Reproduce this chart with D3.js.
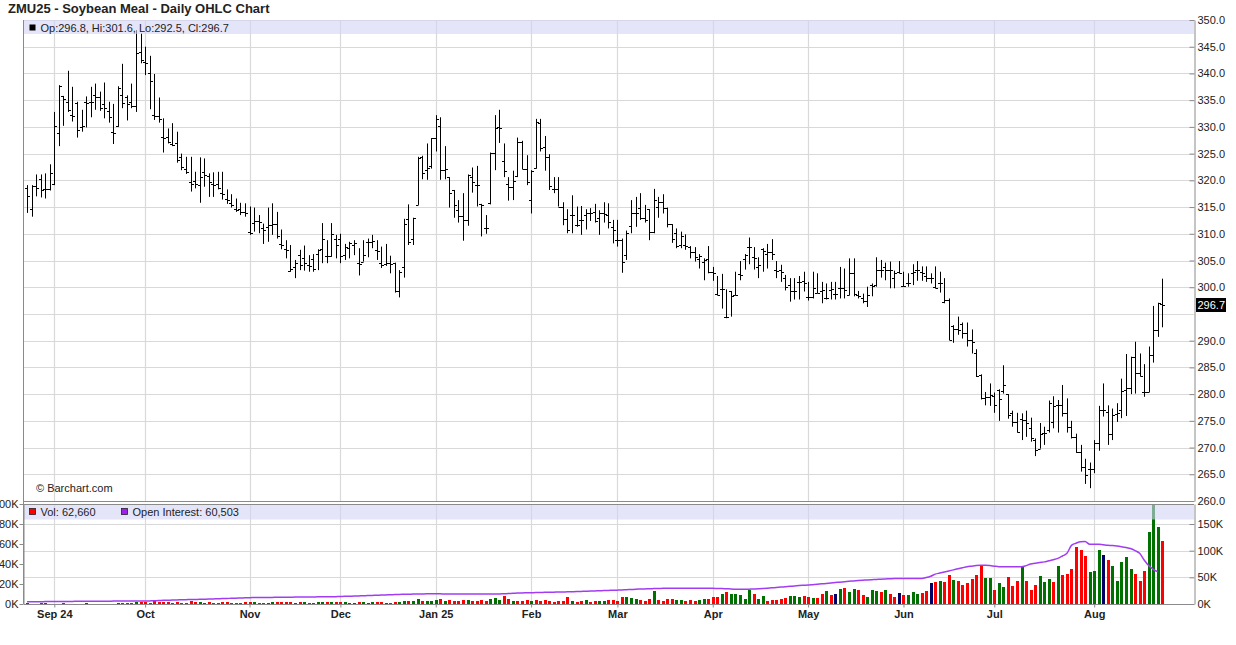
<!DOCTYPE html>
<html><head><meta charset="utf-8">
<script src="https://cdn.jsdelivr.net/npm/d3@7"></script>
<style>
body{margin:0;background:#fff;}
svg{display:block;font-family:"Liberation Sans",Arial,sans-serif;}
</style></head><body>
<svg id="c" width="1236" height="645"></svg>
<script>
// ---------- DATA ----------
const title = "ZMU25 - Soybean Meal - Daily OHLC Chart";
const holidays = ["2024-09-02","2024-11-28","2024-12-25","2025-01-01","2025-01-20","2025-02-17","2025-04-18","2025-05-26","2025-06-19","2025-07-04"];
const monthLabels = ["Sep 24","Oct","Nov","Dec","Jan 25","Feb","Mar","Apr","May","Jun","Jul","Aug"];
const priceTicks = [260,265,270,275,280,285,290,295,300,305,310,315,320,325,330,335,340,345,350];
const volTicks = [0,20,40,60,80,100];      // K, left axis (volume)
const oiTicks = [0,50,100,150];            // K, right axis (open interest)

const open = [
318.5,314.6,318.9,320.2,318.3,318.4,319.3,328.8,335.7,334.7,
332.3,334.4,330.0,334.7,334.7,336.0,335.6,334.2,333.0,329.0,
330.2,336.0,335.6,334.7,333.9,344.0,342.2,340.0,332.3,332.1,
328.1,328.1,326.8,327.0,324.4,322.2,319.6,319.9,319.2,321.6,
320.8,319.4,319.3,317.6,316.5,315.7,314.6,314.6,314.1,310.4,
312.0,312.3,311.0,311.2,311.7,311.9,308.1,307.1,303.0,303.8,
306.0,305.5,304.1,305.2,306.2,307.1,305.9,305.9,309.1,309.0,
306.0,307.3,307.9,304.5,304.8,308.5,308.5,307.0,304.5,304.3,
304.5,304.5,299.2,303.7,312.8,309.1,315.4,324.4,321.9,322.6,
327.9,330.2,322.0,320.6,318.2,314.4,313.3,312.6,320.6,319.1,
315.5,311.0,315.7,325.2,329.9,323.6,319.4,318.8,320.8,327.2,
322.1,316.4,322.4,330.8,326.2,324.4,318.3,318.3,315.1,312.8,
313.5,311.6,312.6,313.5,313.9,314.1,312.9,313.8,313.5,311.3,
308.8,308.8,306.0,311.4,313.8,314.8,312.9,314.6,310.4,315.1,
316.0,314.8,311.8,310.1,307.9,307.9,307.5,306.6,305.2,304.8,
305.2,302.9,298.8,299.6,294.5,299.2,298.5,302.5,305.2,307.5,
305.6,303.8,307.1,306.3,306.5,303.2,303.2,301.8,300.4,299.3,
301.0,301.2,298.2,298.2,299.0,299.2,297.9,299.5,298.7,299.8,
299.8,298.5,302.6,298.5,298.0,297.5,300.4,300.4,303.3,303.8,
303.2,301.7,302.9,300.3,300.7,302.6,303.3,302.8,302.1,301.8,
300.1,300.8,297.3,297.7,292.7,292.1,293.2,291.5,290.1,287.7,
283.6,279.2,279.5,279.6,280.8,280.6,280.0,276.5,274.8,275.3,
275.1,273.6,271.5,269.8,272.8,273.3,274.8,277.9,277.9,276.4,
273.9,272.0,269.2,266.4,265.9,265.9,270.8,277.0,276.7,272.5,
276.3,277.0,280.8,281.1,286.9,284.0,280.4,280.4,287.3,292.0,
296.8];
const high = [
319.1,319.1,321.1,321.1,321.3,323.0,332.8,337.8,335.8,340.5,
337.5,334.7,333.2,335.7,337.5,338.1,336.6,338.3,334.7,334.3,
337.6,341.8,335.9,338.1,348.1,347.5,345.0,343.3,339.9,335.5,
331.6,329.7,330.7,329.1,325.0,324.4,324.4,321.6,324.3,324.1,
321.3,321.5,321.6,321.6,318.3,317.4,316.6,315.8,315.7,315.1,
314.9,313.5,311.9,314.9,315.7,314.1,310.8,308.8,307.9,305.1,
307.0,307.8,306.0,306.2,307.1,312.0,308.8,312.0,309.8,310.0,
308.1,308.5,308.8,307.3,308.8,309.1,309.8,308.8,307.6,308.1,
305.9,304.6,303.2,312.8,315.5,313.0,324.4,324.6,326.9,327.9,
332.2,331.8,326.4,320.6,318.2,316.3,317.6,321.1,322.4,322.7,
315.6,313.5,325.2,332.2,333.2,326.9,320.6,321.8,328.0,327.4,
324.7,321.9,331.5,331.5,328.3,324.9,320.6,320.6,315.9,314.6,
317.2,315.1,315.2,314.6,314.8,315.6,314.4,315.9,315.7,312.6,
312.6,309.1,310.6,316.3,316.9,317.6,315.4,314.6,318.4,316.9,
317.4,314.9,311.8,311.0,310.4,309.9,307.7,307.5,306.2,305.4,
307.7,303.8,302.1,302.5,299.6,299.3,302.9,304.9,306.2,309.3,
307.5,305.6,307.3,308.1,309.0,304.9,304.2,302.3,301.7,301.7,
302.1,302.9,301.0,302.9,302.6,301.0,300.7,301.0,301.0,303.8,
303.5,305.4,305.4,299.3,298.8,300.1,300.7,305.6,305.1,304.6,
304.8,303.1,304.9,302.9,302.6,304.3,304.9,303.9,303.9,302.6,
303.9,302.9,301.7,297.9,292.9,294.5,293.4,293.4,292.1,288.4,
283.7,280.4,282.0,280.3,280.9,285.4,280.0,276.9,276.5,276.4,
276.9,275.6,271.7,274.6,273.9,278.8,279.6,278.9,281.7,279.2,
275.0,272.6,270.5,267.9,267.2,271.4,277.8,282.0,277.9,277.3,
278.3,282.9,287.5,287.0,289.8,287.6,285.6,288.9,296.5,297.1,
301.6];
const low = [
313.9,313.2,317.0,316.8,316.6,318.1,319.1,326.4,330.2,332.8,
331.0,328.0,329.1,329.9,331.8,333.2,333.0,331.6,330.8,326.8,
330.0,333.5,331.2,333.5,332.8,341.9,339.7,333.3,331.3,330.8,
325.2,326.9,326.4,323.3,321.9,321.2,317.9,318.5,315.8,318.8,
316.9,316.9,318.3,316.4,315.6,314.9,314.1,313.5,313.2,309.8,
310.4,310.1,308.1,308.5,309.8,309.1,307.1,305.4,302.9,301.7,
303.2,303.1,302.9,302.9,303.2,304.5,304.5,305.7,305.4,304.5,
305.1,305.4,306.0,302.2,304.8,305.6,307.3,305.1,303.6,304.0,
302.6,299.0,298.1,301.8,307.9,307.9,315.4,320.2,320.1,322.2,
325.4,320.1,320.2,314.9,313.0,312.1,308.7,311.5,317.7,315.1,
309.5,310.0,315.5,321.9,327.0,320.6,316.2,316.3,320.6,322.1,
319.1,313.8,322.2,325.4,321.8,318.2,317.6,315.1,311.6,310.1,
310.1,311.3,309.8,310.8,312.4,312.1,309.8,312.1,311.0,308.2,
307.6,302.7,305.1,310.1,311.3,312.6,312.1,308.8,310.1,313.0,
313.8,311.2,308.3,307.3,307.3,307.0,305.4,304.8,303.5,301.3,
302.6,301.2,298.5,296.0,294.2,294.5,298.5,301.3,303.3,304.3,
303.3,301.7,302.9,303.5,305.1,301.7,301.0,299.4,297.3,297.7,
297.7,299.2,297.5,297.9,298.9,297.0,297.7,297.7,297.7,297.9,
297.9,298.5,298.3,297.9,297.0,296.3,298.3,300.1,301.8,301.3,
299.8,299.8,302.6,300.1,300.1,300.4,301.2,301.2,301.0,300.7,
299.8,299.0,297.0,290.1,289.6,291.1,290.4,288.9,287.6,283.2,
279.0,277.9,277.8,276.5,275.0,280.1,275.4,273.9,272.8,271.4,
272.0,271.1,268.4,269.8,270.5,272.8,273.6,272.8,275.8,272.8,
271.7,269.0,265.5,263.2,262.4,265.2,269.4,275.8,270.5,271.4,
274.8,275.5,275.9,280.0,280.1,283.3,279.5,280.4,285.9,290.7,
292.5];
const close = [
317.1,318.9,318.6,318.2,318.4,321.3,330.2,337.6,335.3,333.2,
332.0,329.4,330.2,334.5,334.7,335.6,333.6,333.5,331.8,328.9,
337.2,334.5,334.3,334.0,343.9,342.5,342.0,338.5,332.1,331.4,
328.0,327.2,326.6,323.8,322.5,321.6,319.4,319.3,320.7,321.0,
319.6,319.1,318.5,317.4,316.3,315.4,314.4,314.1,313.8,310.1,
312.3,312.2,310.7,311.6,311.9,309.6,307.9,307.0,303.5,304.6,
304.1,304.5,304.0,303.5,307.0,309.1,305.9,310.0,307.9,305.9,
307.6,308.2,308.3,304.3,306.0,308.4,308.7,306.8,304.2,304.6,
304.4,299.2,302.9,311.8,308.5,312.9,324.1,321.4,322.4,327.9,
331.4,322.0,322.2,317.7,315.3,313.3,312.6,321.0,319.6,319.1,
315.4,311.1,325.2,329.7,329.8,321.7,318.8,319.9,327.2,322.2,
319.6,321.8,331.0,326.0,324.3,318.9,318.4,315.1,312.8,310.7,
313.5,311.6,312.6,313.8,313.9,312.4,313.8,313.7,312.2,310.8,
308.8,304.8,310.2,313.8,313.9,312.9,312.6,310.4,316.3,316.0,
314.8,311.8,309.1,307.7,309.6,307.7,306.6,305.7,305.8,305.1,
302.9,302.7,298.5,299.6,294.5,298.3,298.6,302.3,306.0,307.5,
305.4,304.2,306.8,306.5,306.3,303.1,302.9,300.1,299.2,299.2,
301.0,300.8,298.1,299.8,299.0,299.5,297.9,299.6,298.7,299.8,
299.4,302.6,298.7,298.3,297.4,298.5,300.2,303.3,303.2,303.3,
303.2,302.7,302.7,300.3,300.8,302.8,303.2,302.7,301.8,301.8,
299.8,300.7,297.7,290.2,292.1,292.0,291.5,290.1,289.8,283.4,
279.2,279.5,279.9,277.9,279.0,281.7,276.1,274.8,272.9,275.1,
274.6,271.7,269.5,272.6,272.8,278.3,277.8,277.9,276.4,273.9,
272.0,269.2,266.4,264.9,265.9,270.8,277.0,277.0,272.5,276.1,
276.4,280.6,281.1,286.9,284.0,283.4,280.4,287.3,292.0,297.0,
296.7];
// volume in thousands of contracts
const volume = [
0.8,0.3,0.2,0.6,0.8,0.3,0.5,0.4,0.7,0.3,
0.2,0.3,0.4,0.6,0.2,0.3,0.2,0.3,0.4,0.3,
0.8,0.7,0.9,1.0,2.3,2.0,1.8,1.2,2.6,2.0,
1.9,1.8,1.0,1.5,0.8,1.3,2.8,1.9,2.5,1.0,
1.8,1.2,1.3,1.9,1.5,1.4,1.0,1.3,1.5,2.3,
1.5,1.3,1.4,1.2,1.8,1.6,1.6,1.8,2.5,1.4,
1.6,1.7,1.2,1.3,1.6,2.5,2.0,1.7,1.5,1.8,
1.5,1.3,1.0,2.2,1.6,1.4,1.7,1.5,1.9,1.3,
1.2,2.5,2.0,3.5,2.8,2.6,4.5,3.2,3.0,3.4,
4.0,5.0,3.2,3.8,3.5,3.0,3.6,4.4,3.0,3.2,
3.8,3.4,5.5,6.0,4.2,8.3,5.0,3.0,3.0,3.0,
4.0,3.0,4.0,3.0,4.0,3.0,2.3,3.0,3.0,7.0,
3.0,2.3,3.3,4.0,2.3,3.0,3.0,3.0,4.0,4.0,
3.0,7.0,6.7,5.7,5.0,4.0,3.0,5.0,13.0,4.0,
3.0,5.0,5.0,4.0,4.0,3.0,4.0,3.3,4.0,5.0,
5.0,7.0,7.0,10.0,12.0,10.0,10.0,9.0,5.0,14.0,
10.0,5.0,8.0,3.0,4.0,4.0,5.0,6.0,8.0,8.0,
7.0,8.0,7.0,6.0,6.0,10.0,13.0,9.0,10.0,15.0,
16.0,12.0,15.0,14.0,9.0,7.0,14.0,13.0,12.0,14.0,
10.0,7.0,11.0,9.0,9.0,12.0,10.0,11.0,13.3,21.0,
22.3,23.0,22.3,29.0,24.0,23.0,19.0,21.0,25.0,29.0,
38.0,26.0,26.0,14.0,21.0,17.0,27.0,18.0,23.3,37.0,
23.3,14.0,19.0,28.0,22.3,25.0,22.3,38.0,29.0,30.3,
35.0,57.3,54.0,48.0,32.3,33.3,54.0,49.0,44.0,38.3,
23.3,42.0,46.7,35.0,30.0,23.3,33.0,72.0,115.0,77.3,
62.66];
// open interest in thousands (last session not yet reported)
const openInterest = [
4.3,4.3,4.4,4.4,4.5,4.5,4.6,4.7,4.8,4.9,
4.9,5.0,5.0,5.1,5.1,5.2,5.2,5.3,5.3,5.4,
5.4,5.5,5.5,5.5,5.6,5.6,5.6,5.8,6.1,6.4,
6.8,7.1,7.4,7.7,8.0,8.2,8.4,8.6,8.7,8.9,
9.2,9.5,9.8,10.1,10.4,10.7,11.0,11.3,11.6,11.9,
12.0,12.1,12.2,12.3,12.4,12.5,12.6,12.7,12.8,12.9,
13.0,13.1,13.2,13.3,13.4,13.5,13.6,13.7,13.8,14.0,
14.3,14.6,14.9,15.2,15.5,15.8,16.1,16.4,16.7,17.0,
17.3,17.6,17.9,18.2,18.4,18.6,18.8,18.9,19.0,19.0,
19.0,19.0,18.9,18.9,18.8,18.8,18.8,18.7,18.7,18.7,
18.7,18.7,18.7,18.8,18.8,19.2,19.6,20.0,20.4,20.8,
21.0,21.2,21.4,21.6,21.8,22.0,22.2,22.4,22.6,22.8,
23.0,23.3,23.6,23.9,24.2,24.5,24.8,25.1,25.4,25.7,
26.0,26.4,26.8,27.2,27.6,28.0,28.3,28.6,28.9,29.1,
29.3,29.4,29.5,29.5,29.6,29.6,29.6,29.5,29.5,29.5,
29.4,29.4,29.2,29.0,28.6,28.2,27.8,27.5,27.6,27.8,
28.1,28.5,29.0,29.6,30.3,31.0,31.7,32.4,33.1,33.8,
34.5,35.1,35.6,36.3,37.0,37.8,38.6,39.4,40.2,41.0,
41.8,42.6,43.3,44.0,44.6,45.0,45.5,46.0,46.5,47.0,
47.4,47.8,48.0,48.0,48.0,48.0,48.0,48.0,49.5,52.0,
56.0,58.0,60.0,62.0,64.0,66.0,68.0,70.0,71.0,72.0,
72.5,72.5,72.0,71.0,70.0,70.0,70.0,70.0,70.0,70.0,
72.0,75.0,76.5,78.0,79.0,81.0,83.0,85.6,90.0,95.0,
110.0,114.0,116.8,117.0,112.0,112.0,112.0,111.0,110.0,109.5,
108.7,107.5,106.0,104.0,100.0,95.0,82.5,72.0,65.0,60.5,
null];
// u = close up, d = close down, n = unchanged (volume bar colour)
const volDirCodes = [
"u","u","d","d","u","u","u","u","d","d",
"d","d","u","u","u","u","d","d","d","d",
"u","d","d","d","u","d","d","d","d","d",
"d","d","d","d","d","d","d","d","u","u",
"d","d","d","d","d","d","d","d","d","d",
"u","d","d","u","u","d","d","d","d","u",
"d","u","d","d","u","u","d","u","d","d",
"u","u","u","d","u","u","u","d","d","u",
"d","d","u","u","d","u","u","d","u","u",
"u","d","u","d","d","d","d","u","d","d",
"d","d","u","u","u","d","d","u","d","d",
"d","u","d","d","d","d","d","d","d","d",
"u","d","d","u","d","d","u","u","d","d",
"d","d","u","u","u","d","d","d","u","d",
"d","d","d","u","u","d","d","d","u","u",
"d","d","d","u","d","u","u","u","u","u",
"d","u","u","d","d","d","d","d","u","u",
"u","d","d","u","d","d","u","d","n","u",
"d","u","u","d","d","u","u","u","d","u",
"d","d","n","d","u","u","u","d","d","n",
"d","u","d","d","u","d","d","d","d","d",
"d","u","u","d","u","u","d","d","d","u",
"d","d","d","u","u","u","d","u","d","d",
"d","d","d","d","u","u","u","n","d","u",
"u","u","u","u","d","d","d","u","u","u",
"d"];
const lastVolume = 62660, lastOI = 60503;

// ---------- CHART ----------
const svg = d3.select("#c");
const plotL = 24, plotR = 1194, mainTop = 20, mainBot = 501, volTop = 504, volBot = 604;
const fmtDay = d3.utcFormat("%Y-%m-%d");
const dates = d3.utcDays(new Date(Date.UTC(2024,7,23)), new Date(Date.UTC(2025,7,23)))
  .filter(d => d.getUTCDay() % 6 !== 0 && !holidays.includes(fmtDay(d))).map(fmtDay);
const N = close.length;
const x = d3.scalePoint().domain(dates.slice(0, N)).range([27.05, 1162.3]);
const yP = d3.scaleLinear().domain([260, 350]).range([mainBot, mainTop]);
const yV = d3.scaleLinear().domain([0, 100]).range([volBot, volTop]);
const yOI = d3.scaleLinear().domain([0, 187.5]).range([volBot, volTop]);

const monthStarts = dates.slice(0, N).filter((d, i) => i > 0 && d.slice(5, 7) !== dates[i - 1].slice(5, 7));
const px = i => Math.round(x(dates[i])) + 0.5;

svg.append("rect").attr("width", 1236).attr("height", 645).attr("fill", "#fff");
const defs = svg.append("defs");
defs.append("clipPath").attr("id", "cm").append("rect").attr("x", plotL).attr("y", mainTop).attr("width", plotR - plotL).attr("height", mainBot - mainTop);
defs.append("clipPath").attr("id", "cv").append("rect").attr("x", plotL).attr("y", volTop).attr("width", plotR - plotL).attr("height", volBot - volTop);

const grid = "#d9d9d9";
// main grid
svg.append("g").selectAll("line").data(priceTicks).join("line")
  .attr("x1", plotL).attr("x2", plotR).attr("y1", d => Math.round(yP(d)) + 0.5).attr("y2", d => Math.round(yP(d)) + 0.5)
  .attr("stroke", grid);
svg.append("g").selectAll("line").data(monthStarts).join("line")
  .attr("x1", d => Math.round(x(d)) + 0.5).attr("x2", d => Math.round(x(d)) + 0.5)
  .attr("y1", mainTop).attr("y2", mainBot).attr("stroke", grid).attr("stroke-width", 1.2);
// volume grid
svg.append("g").selectAll("line").data(oiTicks.filter(d => d > 0)).join("line")
  .attr("x1", plotL).attr("x2", plotR).attr("y1", d => Math.round(yOI(d)) + 0.5).attr("y2", d => Math.round(yOI(d)) + 0.5)
  .attr("stroke", grid);
svg.append("g").selectAll("line").data(monthStarts).join("line")
  .attr("x1", d => Math.round(x(d)) + 0.5).attr("x2", d => Math.round(x(d)) + 0.5)
  .attr("y1", volTop).attr("y2", volBot).attr("stroke", grid).attr("stroke-width", 1.2);

// OHLC bars
svg.append("g").attr("clip-path", "url(#cm)").selectAll("path").data(d3.range(N)).join("path")
  .attr("d", i => {
    const cx = px(i);
    const yo = Math.round(yP(open[i])) + 0.5, yc = Math.round(yP(close[i])) + 0.5;
    return `M${cx},${yP(high[i])}V${yP(low[i])}M${cx - 2.5},${yo}H${cx}M${cx},${yc}H${cx + 2.5}`;
  })
  .attr("stroke", "#000").attr("stroke-width", 1).attr("fill", "none");

// volume bars
const volColor = { u: "#007000", d: "#ff0000", n: "#000066" };
svg.append("g").attr("clip-path", "url(#cv)").selectAll("rect").data(d3.range(N)).join("rect")
  .attr("x", i => Math.round(x(dates[i])) - 1).attr("width", 3)
  .attr("y", i => Math.round(yV(volume[i])))
  .attr("height", i => volBot - Math.round(yV(volume[i])))
  .attr("fill", i => volColor[volDirCodes[i]]);

// open interest line
svg.append("path").attr("clip-path", "url(#cv)")
  .datum(openInterest)
  .attr("d", d3.line().defined(d => d != null).curve(d3.curveMonotoneX).x((d, i) => x(dates[i])).y(d => yOI(d)))
  .attr("fill", "none").attr("stroke", "#a23cf2").attr("stroke-width", 1.5);

// legend bands
svg.append("rect").attr("x", plotL).attr("y", mainTop).attr("width", plotR - plotL).attr("height", 14)
  .attr("fill", "rgb(212,212,246)").attr("opacity", 0.6);
svg.append("rect").attr("x", plotL).attr("y", volTop + 0.5).attr("width", plotR - plotL).attr("height", 15)
  .attr("fill", "rgb(212,212,246)").attr("opacity", 0.6);

const f1 = d3.format(".1f");
svg.append("rect").attr("x", 29.5).attr("y", 24.5).attr("width", 6).attr("height", 6).attr("fill", "#000");
svg.append("text").attr("x", 40.5).attr("y", 31.5).attr("font-size", 11).attr("fill", "#222")
  .text(`Op:${f1(open[N-1])}, Hi:${f1(high[N-1])}, Lo:${f1(low[N-1])}, Cl:${f1(close[N-1])}`);
svg.append("rect").attr("x", 29.5).attr("y", 508.5).attr("width", 6).attr("height", 6).attr("fill", "#ff0000").attr("stroke", "#222").attr("stroke-width", 0.8);
svg.append("text").attr("x", 40.5).attr("y", 515.5).attr("font-size", 11).attr("fill", "#222").text(`Vol: ${d3.format(",")(lastVolume)}`);
svg.append("rect").attr("x", 121.5).attr("y", 508.5).attr("width", 6).attr("height", 6).attr("fill", "#a020f0").attr("stroke", "#222").attr("stroke-width", 0.8);
svg.append("text").attr("x", 132.5).attr("y", 515.5).attr("font-size", 11).attr("fill", "#222").text(`Open Interest: ${d3.format(",")(lastOI)}`);

// frames
const frame = "#8a8a8a";
svg.append("line").attr("x1", plotL - 0.5).attr("x2", plotL - 0.5).attr("y1", mainTop).attr("y2", volBot).attr("stroke", frame);
svg.append("line").attr("x1", plotL).attr("x2", plotR).attr("y1", 501.5).attr("y2", 501.5).attr("stroke", frame);
svg.append("line").attr("x1", plotL).attr("x2", plotR).attr("y1", 504.5).attr("y2", 504.5).attr("stroke", frame);
svg.append("line").attr("x1", plotL).attr("x2", plotR).attr("y1", volBot + 0.5).attr("y2", volBot + 0.5).attr("stroke", frame);

function styleAxis(g) {
  g.attr("font-family", null).attr("font-size", null);
  g.selectAll("text").attr("font-size", 11).attr("fill", "#222");
  g.selectAll("line").attr("stroke", frame);
  g.select(".domain").attr("stroke", frame);
}
// price axis (right)
const lastY = yP(close[N-1]);
svg.append("g").attr("transform", `translate(${plotR + 0.5},0)`)
  .call(d3.axisRight(yP).tickValues(priceTicks.filter(t => Math.abs(yP(t) - lastY) > 10))
    .tickFormat(f1).tickSize(-5).tickSizeOuter(0).tickPadding(3))
  .call(styleAxis);
// volume axis (left)
svg.append("g").attr("transform", `translate(${plotL - 0.5},0)`)
  .call(d3.axisLeft(yV).tickValues(volTicks).tickFormat(d => d + "K").tickSize(4).tickSizeOuter(0).tickPadding(1))
  .call(styleAxis);
// open interest axis (right)
svg.append("g").attr("transform", `translate(${plotR + 0.5},0)`)
  .call(d3.axisRight(yOI).tickValues(oiTicks).tickFormat(d => d + "K").tickSize(-5).tickSizeOuter(0).tickPadding(3))
  .call(styleAxis);
// time axis
const xa = svg.append("g").attr("transform", `translate(0,${volBot + 0.5})`)
  .call(d3.axisBottom(x).tickValues(monthStarts).tickFormat((d, i) => monthLabels[i]).tickSize(3).tickPadding(3))
  .call(styleAxis);
xa.select(".domain").remove();
xa.selectAll("text").attr("font-weight", "bold");

// last price marker
svg.append("rect").attr("x", plotR + 2).attr("y", Math.round(lastY) - 7).attr("width", 30).attr("height", 14).attr("fill", "#000");
svg.append("text").attr("x", plotR + 3.5).attr("y", Math.round(lastY) + 4).attr("font-size", 11).attr("fill", "#fff").text(f1(close[N-1]));

// title and credit
svg.append("text").attr("x", 8).attr("y", 13).attr("font-size", 13).attr("font-weight", "bold").attr("fill", "#222").text(title);
svg.append("text").attr("x", 36).attr("y", 492).attr("font-size", 11).attr("fill", "#222").text("\u00a9 Barchart.com");
</script>
</body></html>
